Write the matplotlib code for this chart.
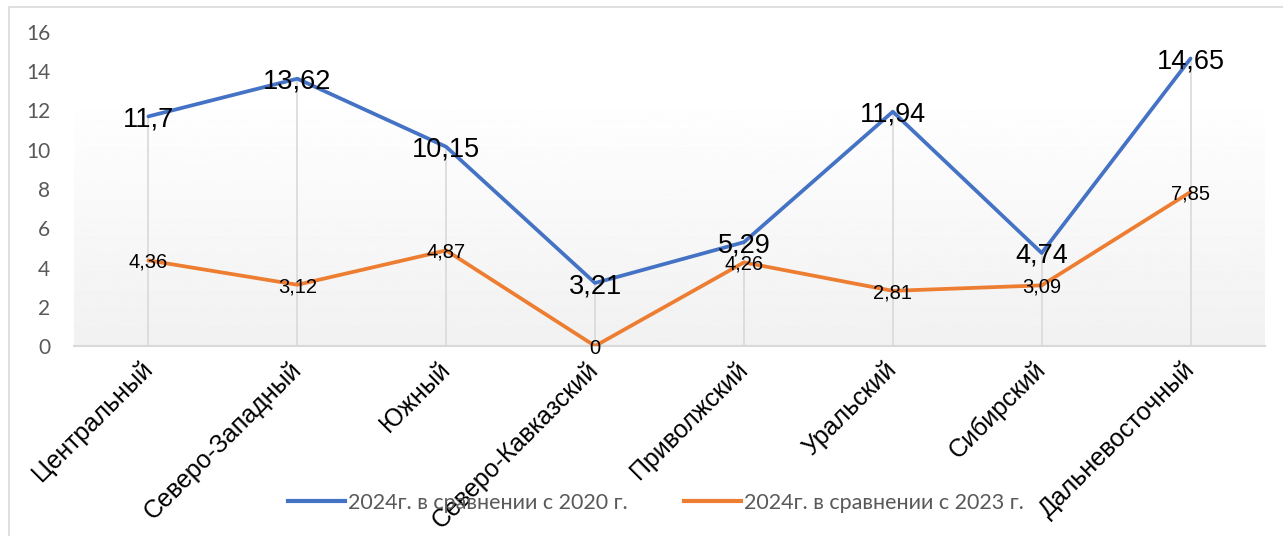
import numpy as np
import matplotlib
matplotlib.use("Agg")
import matplotlib.pyplot as plt
from matplotlib.lines import Line2D
from matplotlib.patches import Rectangle

# данные
regions = ["Центральный", "Северо-Западный", "Южный", "Северо-Кавказский",
           "Приволжский", "Уральский", "Сибирский", "Дальневосточный"]
vs_2020 = [11.7, 13.62, 10.15, 3.21, 5.29, 11.94, 4.74, 14.65]
vs_2023 = [4.36, 3.12, 4.87, 0, 4.26, 2.81, 3.09, 7.85]
series_names = ["2024г. в сравнении с 2020 г.", "2024г. в сравнении с 2023 г."]
yticks = [0, 2, 4, 6, 8, 10, 12, 14, 16]

blue = "#4472C4"
orange = "#ED7D31"
grey_txt = "#595959"
grid_c = "#d9d9d9"


def fmt(v):
    return f"{v:g}".replace(".", ",")


fig = plt.figure(figsize=(12.83, 5.36), dpi=100)
ax = fig.add_axes([74 / 1283, 1 - 346 / 536, (1265 - 74) / 1283, (346 - 32) / 536])

x = np.arange(len(regions))

# фон области построения (градиент)
grad = np.linspace(0.945, 0.997, 256).reshape(-1, 1)
ax.imshow(grad, extent=(-0.5, 7.5, 0, 12.2), aspect="auto", cmap="gray",
          vmin=0, vmax=1, zorder=0, origin="lower")

# линии проекции
ax.vlines(x, 0, np.maximum(vs_2020, vs_2023), color=grid_c, lw=1.2, zorder=1)

ax.plot(x, vs_2020, color=blue, lw=2.7, solid_capstyle="round", zorder=3)
ax.plot(x, vs_2023, color=orange, lw=2.7, solid_capstyle="round", zorder=3)

for xi, v in zip(x, vs_2020):
    ax.text(xi, v, fmt(v), ha="center", va="center_baseline", fontsize=19.5,
            family="Liberation Sans", color="black", zorder=5)
for xi, v in zip(x, vs_2023):
    ax.text(xi, v, fmt(v), ha="center", va="center_baseline", fontsize=14.5,
            family="Liberation Sans", color="black", zorder=5)

ax.set_xlim(-0.5, 7.5)
ax.set_ylim(0, 16)
ax.set_yticks(yticks)
ax.set_yticklabels([str(t) for t in yticks], family="Lato", fontsize=15, color=grey_txt)
ax.tick_params(axis="y", length=0, pad=17)
ax.set_xticks(x)
ax.set_xticklabels(regions, rotation=45, ha="right", va="center",
                   rotation_mode="anchor", family="Liberation Sans", fontsize=18)
ax.tick_params(axis="x", length=0, pad=14)

for s in ["top", "right", "left"]:
    ax.spines[s].set_visible(False)
ax.spines["bottom"].set_color(grid_c)
ax.spines["bottom"].set_linewidth(1.5)

handles = [Line2D([], [], color=blue, lw=3), Line2D([], [], color=orange, lw=3)]
leg = fig.legend(handles, series_names, loc="center", ncol=2,
                 bbox_to_anchor=(656 / 1283, 1 - 503 / 536), frameon=False,
                 prop={"family": "Lato", "size": 15.5}, handlelength=2.65,
                 handletextpad=0.15, columnspacing=2.6)
for t in leg.get_texts():
    t.set_color(grey_txt)

# рамка диаграммы
fig.patches.append(Rectangle((9 / 1283, -0.1), 1.2, 1.1 - 7 / 536, transform=fig.transFigure,
                             fill=False, edgecolor=grid_c, lw=1.2))

fig.savefig("out.png", dpi=100)
